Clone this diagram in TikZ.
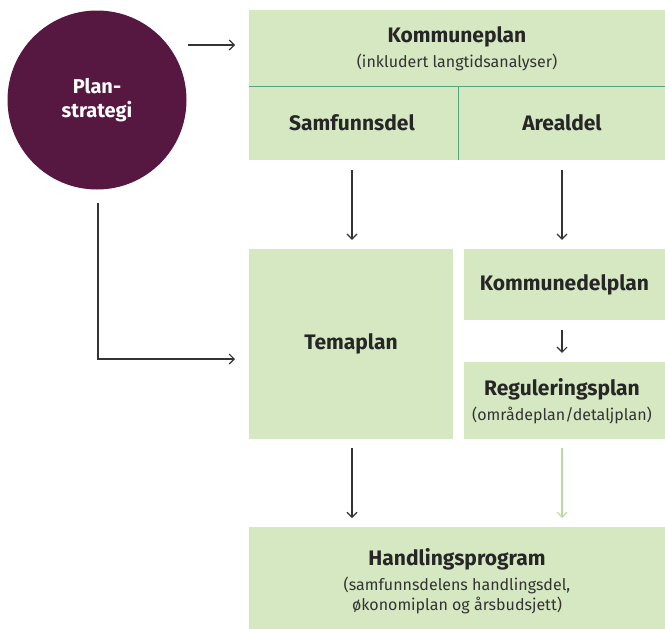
\documentclass[tikz,border=0pt]{standalone}
\usepackage{fontspec}
\setmainfont{Fira Sans}
\usetikzlibrary{arrows.meta}
\definecolor{boxgreen}{HTML}{D5E8C1}
\definecolor{linegreen}{HTML}{4FA67C}
\definecolor{lightarrow}{HTML}{B9DCA2}
\definecolor{plum}{HTML}{561741}
\definecolor{arrowgray}{HTML}{333333}
\tikzset{
  box/.style={fill=boxgreen, draw=none, inner sep=0pt},
  title/.style={font=\fontsize{21}{25}\selectfont\bfseries, text=black!85, inner sep=0pt},
  sub/.style={font=\fontsize{16}{19}\selectfont, text=black!80, inner sep=0pt},
  conn/.style={draw=arrowgray, line width=1.1pt, -{Straight Barb[length=5pt,width=10pt]}},
  lconn/.style={draw=lightarrow, line width=1.1pt, -{Straight Barb[length=5pt,width=10pt]}},
}
\begin{document}
\begin{tikzpicture}[x=1pt,y=-1pt]
\useasboundingbox (0,0) rectangle (665,629);
% circle
\node[circle, fill=plum, minimum size=179pt, inner sep=0pt, text=white, align=center,
  font=\fontsize{20}{24}\selectfont\bfseries] (plan) at (97,100) {Plan-\\strategi};
% top box
\node[box, minimum width=416pt, minimum height=150pt, anchor=north west] (kp) at (249,10) {};
\draw[linegreen, line width=1pt] (249,86) -- (665,86);
\draw[linegreen, line width=1pt] (458,86) -- (458,160);
\node[title] (kpt) at (457,37) {Kommuneplan};
\node[sub] (kps) at (457,62) {(inkludert langtidsanalyser)};
\node[title] (sam) at (352,123) {Samfunnsdel};
\node[title] (are) at (562,123) {Arealdel};
% middle boxes
\node[box, minimum width=204pt, minimum height=190pt, title] (tema) at (351,344) {Temaplan};
\node[box, minimum width=201pt, minimum height=71pt, title] (kdp) at (564.5,284.5) {Kommunedelplan};
\node[box, minimum width=201pt, minimum height=77pt] (reg) at (564.5,400.5) {};
\node[title] (regt) at (562,389) {Reguleringsplan};
\node[sub] (regs) at (562,415) {(områdeplan/detaljplan)};
% bottom box
\node[box, minimum width=416pt, minimum height=102pt, anchor=north west] (hp) at (249,527) {};
\node[title] (hpt) at (457,559) {Handlingsprogram};
\node[sub] (hps1) at (457,585) {(samfunnsdelens handlingsdel,};
\node[sub] (hps2) at (457,605) {økonomiplan og årsbudsjett)};
% connectors
\coordinate (cl) at (352,0);
\coordinate (cr) at (562,0);
\draw[conn] (188,45) coordinate (a1s) -- (235,45) coordinate (a1e);
\draw[conn] (98,203) coordinate (ls) |- (235,359) coordinate (le);
\draw[conn] (cl |- kp.south) ++(0,10) -- ([yshift=9pt]tema.north -| cl);
\draw[conn] (cr |- kp.south) ++(0,10) -- ([yshift=9pt]kdp.north -| cr);
\draw[conn] (cr |- kdp.south) ++(0,10) -- ([yshift=9pt]reg.north -| cr);
\draw[conn] (cl |- tema.south) ++(0,9) -- ([yshift=9pt]hp.north -| cl);
\draw[lconn] (cr |- reg.south) ++(0,9) -- ([yshift=9pt]hp.north -| cr);
\end{tikzpicture}
\end{document}
